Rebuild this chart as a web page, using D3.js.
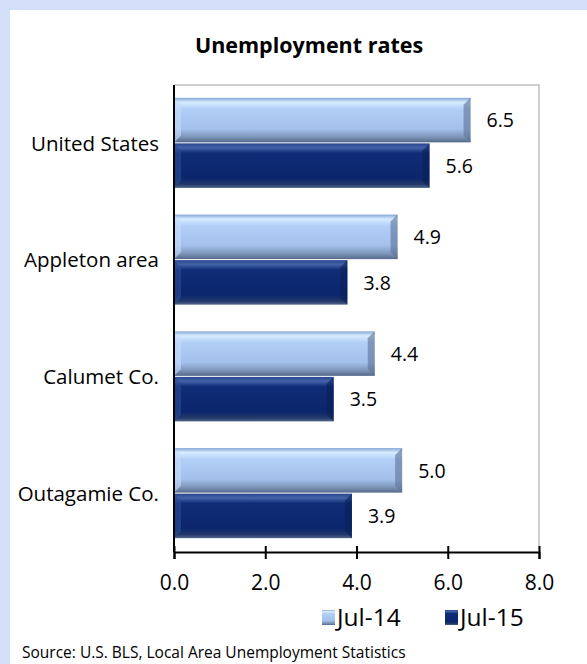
<!DOCTYPE html>
<html lang="en">
<head>
<meta charset="utf-8">
<title>Unemployment rates</title>
<script src="https://cdn.jsdelivr.net/npm/d3@7"></script>
<style>
  body { margin: 0; background: #fff; }
  text { font-family: "Open Sans", sans-serif; fill: #000; }
</style>
</head>
<body>
<script>
// categories, top to bottom
var categories = ["United States", "Appleton area", "Calumet Co.", "Outagamie Co."];
var series = ["Jul-14", "Jul-15"];
var jul14 = [6.5, 4.9, 4.4, 5.0];
var jul15 = [5.6, 3.8, 3.5, 3.9];
var xTicks = [0, 2, 4, 6, 8];

var width = 587, height = 664;

var svg = d3.select("body").append("svg")
    .attr("width", width)
    .attr("height", height);

// lavender frame on top and left
svg.append("rect").attr("width", width).attr("height", height).attr("fill", "#d3def8");
svg.append("rect").attr("x", 10).attr("y", 10).attr("width", width - 10).attr("height", height - 10).attr("fill", "#fff");

var defs = svg.append("defs");

function grad(id, stops) {
  var g = defs.append("linearGradient").attr("id", id)
      .attr("x1", 0).attr("y1", 0).attr("x2", 0).attr("y2", 1);
  stops.forEach(function(s) {
    g.append("stop").attr("offset", s[0]).attr("stop-color", s[1]);
  });
}
grad("g14", [[0, "#86a6d6"], [0.1, "#d6ecff"], [0.25, "#b2cff7"], [0.7, "#a3c0ec"], [0.88, "#7d95b8"], [1, "#55698c"]]);
grad("g15", [[0, "#2a468e"], [0.1, "#4262a8"], [0.22, "#0f2c76"], [0.78, "#0b266c"], [0.92, "#23396a"], [1, "#53658c"]]);

var colors = { "Jul-14": "url(#g14)", "Jul-15": "url(#g15)" };

var x = d3.scaleLinear().domain([0, 8]).range([174, 539]);
var y = d3.scaleBand().domain(categories).range([85, 552]).paddingInner(0.22).paddingOuter(0.11);
var y2 = d3.scaleBand().domain(series).range([0, y.bandwidth()]);

// plot border (gray top/right)
svg.append("path")
    .attr("d", "M" + x(0) + "," + y.range()[0] + "H" + x(8) + "V" + y.range()[1])
    .attr("fill", "none").attr("stroke", "#c0c0c0").attr("stroke-width", 1.5);

var rows = categories.map(function(c, i) {
  return { cat: c, values: [{ s: "Jul-14", v: jul14[i] }, { s: "Jul-15", v: jul15[i] }] };
});

var group = svg.selectAll("g.cat").data(rows).enter().append("g")
    .attr("class", "cat")
    .attr("transform", function(d) { return "translate(0," + y(d.cat) + ")"; });

var bar = group.selectAll("g.bar").data(function(d) { return d.values; }).enter().append("g")
    .attr("class", "bar");

bar.append("rect")
    .attr("x", x(0))
    .attr("y", function(d) { return y2(d.s); })
    .attr("width", function(d) { return x(d.v) - x(0); })
    .attr("height", y2.bandwidth() - 1)
    .attr("fill", function(d) { return colors[d.s]; });

// bevel at the bar ends
bar.append("path")
    .attr("d", function(d) {
      var t = y2(d.s), h = y2.bandwidth() - 1, e = x(d.v), b = 7;
      return "M" + e + "," + t + "L" + (e - b) + "," + (t + b) + "V" + (t + h - b) + "L" + e + "," + (t + h) + "Z";
    })
    .attr("fill", function(d) { return d.s === "Jul-14" ? "#5d7296" : "#0a1f55"; })
    .attr("opacity", 0.6);
bar.append("path")
    .attr("d", function(d) {
      var t = y2(d.s), h = y2.bandwidth() - 1, s = x(0), b = 7;
      return "M" + s + "," + t + "L" + (s + b) + "," + (t + b) + "V" + (t + h - b) + "L" + s + "," + (t + h) + "Z";
    })
    .attr("fill", function(d) { return d.s === "Jul-14" ? "#c6dcfa" : "#2d4b96"; })
    .attr("opacity", 0.6);

bar.append("text")
    .attr("x", function(d) { return x(d.v) + 16; })
    .attr("y", function(d) { return y2(d.s) + y2.bandwidth() / 2; })
    .attr("dy", "0.35em")
    .style("font-size", "19.5px")
    .text(function(d) { return d3.format(".1f")(d.v); });

// category labels
svg.selectAll("text.cat").data(categories).enter().append("text")
    .attr("class", "cat")
    .attr("x", 159)
    .attr("y", function(d) { return y(d) + y.bandwidth() / 2; })
    .attr("dy", "0.35em")
    .attr("text-anchor", "end")
    .style("font-size", "20.5px")
    .text(function(d) { return d; });

// left axis line
svg.append("line")
    .attr("x1", x(0)).attr("x2", x(0))
    .attr("y1", y.range()[0]).attr("y2", y.range()[1])
    .attr("stroke", "#000").attr("stroke-width", 2);

// bottom axis
var xAxis = svg.append("g")
    .attr("transform", "translate(0," + y.range()[1] + ")")
    .call(d3.axisBottom(x).tickValues(xTicks).tickFormat(d3.format(".1f")).tickSizeOuter(0).tickSize(7).tickPadding(16));
xAxis.select(".domain").attr("stroke", "#000").attr("stroke-width", 2);
xAxis.selectAll(".tick line").attr("y1", -6).attr("y2", 7).attr("stroke", "#000").attr("stroke-width", 2);
xAxis.selectAll(".tick text").style("font-size", "21px").attr("font-family", null);

// title
svg.append("text")
    .attr("x", 309).attr("y", 45)
    .attr("dy", "0.35em")
    .attr("text-anchor", "middle")
    .style("font-size", "21.5px").style("font-weight", "bold")
    .text("Unemployment rates");

// legend
var legendX = { "Jul-14": 322, "Jul-15": 445 };
var lg = svg.selectAll("g.legend").data(series).enter().append("g")
    .attr("class", "legend")
    .attr("transform", function(d) { return "translate(" + legendX[d] + ",610)"; });
lg.append("rect").attr("width", 13).attr("height", 15)
    .attr("fill", function(d) { return colors[d]; });
lg.append("text").attr("x", 15).attr("y", 7).attr("dy", "0.35em")
    .style("font-size", "24.5px")
    .text(function(d) { return d; });

// source
svg.append("text")
    .attr("x", 22).attr("y", 658)
    .style("font-size", "15.5px")
    .text("Source: U.S. BLS, Local Area Unemployment Statistics");
</script>
</body>
</html>
